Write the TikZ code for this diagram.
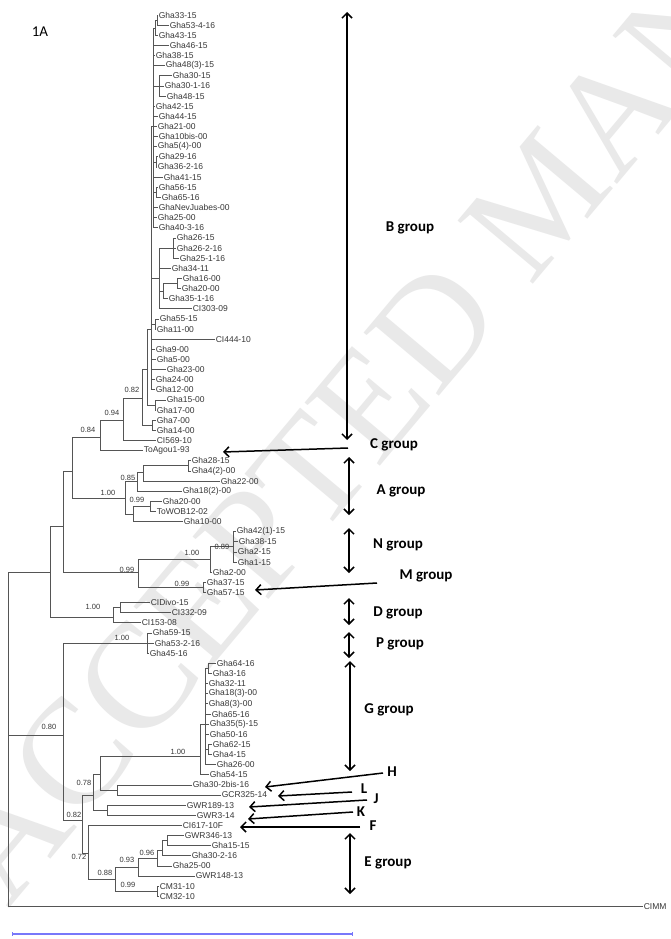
\documentclass[tikz,border=0pt]{standalone}
\usepackage{fontspec}
\setmainfont{Liberation Sans}
\newfontfamily\calib{Carlito}
\newfontfamily\wmfont{Liberation Serif}
\usetikzlibrary{arrows.meta}
\definecolor{treecol}{RGB}{85,85,85}
\definecolor{labcol}{RGB}{55,55,55}
\definecolor{wmcol}{RGB}{233,233,233}
\definecolor{barcol}{RGB}{120,120,250}
\newcommand\myLF[4]{\coordinate (#1) at (#2,{15+(#3-1)*10.13}); \node[leaf] (#1t) at (#1) {#4};}
\newcommand\myIN[3]{\coordinate (#1) at (#2,{15+(#3-1)*10.13});}
\newcommand\myEDS[2]{\foreach \c in {#2} {\draw[br] (#1) |- (\c);}}
\begin{document}
\begin{tikzpicture}[x=1pt,y=-1pt,
  br/.style={draw=treecol,line width=0.7pt},
  leaf/.style={anchor=west,inner sep=0.6pt,font=\fontsize{8.5}{8.5}\selectfont,text=labcol},
  bs/.style={font=\fontsize{7.5}{7.5}\selectfont,text=labcol,inner sep=0pt},
  grp/.style={font=\calib\bfseries\fontsize{15}{15}\selectfont,inner sep=0pt},
  arr/.style={line width=1.5pt,-{Straight Barb[length=5pt,width=10pt]}},
  darr/.style={line width=1.5pt,{Straight Barb[length=5pt,width=10pt]}-{Straight Barb[length=5pt,width=10pt]}}]
\useasboundingbox (0,0) rectangle (670,939);
\fill[white] (0,0) rectangle (670,939);
% watermark
\node[anchor=base west,rotate=50,inner sep=0pt,text=wmcol,font=\wmfont\fontsize{150}{150}\selectfont] (wm) at (8,910) {ACCEPTED MANUSCRIPT};
\node[font=\calib\fontsize{15}{15}\selectfont,inner sep=0pt] (title) at (40,32) {1A};
% leaves
\myLF{L1}{158}{1}{Gha33-15}
\myLF{L2}{169}{2}{Gha53-4-16}
\myLF{L3}{158}{3}{Gha43-15}
\myLF{L4}{169}{4}{Gha46-15}
\myLF{L5}{155}{5}{Gha38-15}
\myLF{L6}{165}{6}{Gha48(3)-15}
\myLF{L7}{172}{7}{Gha30-15}
\myLF{L8}{164}{8}{Gha30-1-16}
\myLF{L9}{166}{9}{Gha48-15}
\myLF{L10}{155}{10}{Gha42-15}
\myLF{L11}{158}{11}{Gha44-15}
\myLF{L12}{157}{12}{Gha21-00}
\myLF{L13}{158}{13}{Gha10bis-00}
\myLF{L14}{157}{14}{Gha5(4)-00}
\myLF{L15}{158}{15}{Gha29-16}
\myLF{L16}{157}{16}{Gha36-2-16}
\myLF{L17}{163}{17}{Gha41-15}
\myLF{L18}{158}{18}{Gha56-15}
\myLF{L19}{161}{19}{Gha65-16}
\myLF{L20}{158}{20}{GhaNevJuabes-00}
\myLF{L21}{157}{21}{Gha25-00}
\myLF{L22}{158}{22}{Gha40-3-16}
\myLF{L23}{176}{23}{Gha26-15}
\myLF{L24}{176}{24}{Gha26-2-16}
\myLF{L25}{179}{25}{Gha25-1-16}
\myLF{L26}{171}{26}{Gha34-11}
\myLF{L27}{182}{27}{Gha16-00}
\myLF{L28}{181}{28}{Gha20-00}
\myLF{L29}{168}{29}{Gha35-1-16}
\myLF{L30}{192}{30}{CI303-09}
\myLF{L31}{159}{31}{Gha55-15}
\myLF{L32}{156}{32}{Gha11-00}
\myLF{L33}{215}{33}{CI444-10}
\myLF{L34}{155}{34}{Gha9-00}
\myLF{L35}{156}{35}{Gha5-00}
\myLF{L36}{166}{36}{Gha23-00}
\myLF{L37}{155}{37}{Gha24-00}
\myLF{L38}{155}{38}{Gha12-00}
\myLF{L39}{166}{39}{Gha15-00}
\myLF{L40}{156}{40}{Gha17-00}
\myLF{L41}{156}{41}{Gha7-00}
\myLF{L42}{156}{42}{Gha14-00}
\myLF{L43}{156}{43}{CI569-10}
\myLF{L44}{143}{44}{ToAgou1-93}
\myLF{L45}{191}{45}{Gha28-15}
\myLF{L46}{191}{46}{Gha4(2)-00}
\myLF{L47}{220}{47}{Gha22-00}
\myLF{L48}{182}{48}{Gha18(2)-00}
\myLF{L49}{162}{49}{Gha20-00}
\myLF{L50}{156}{50}{ToWOB12-02}
\myLF{L51}{183}{51}{Gha10-00}
\myLF{L52}{236}{52}{Gha42(1)-15}
\myLF{L53}{238}{53}{Gha38-15}
\myLF{L54}{237}{54}{Gha2-15}
\myLF{L55}{237}{55}{Gha1-15}
\myLF{L56}{212}{56}{Gha2-00}
\myLF{L57}{206}{57}{Gha37-15}
\myLF{L58}{206}{58}{Gha57-15}
\myLF{L59}{150}{59}{CIDivo-15}
\myLF{L60}{171}{60}{CI332-09}
\myLF{L61}{141}{61}{CI153-08}
\myLF{L62}{152}{62}{Gha59-15}
\myLF{L63}{154}{63}{Gha53-2-16}
\myLF{L64}{149}{64}{Gha45-16}
\myLF{L65}{216}{65}{Gha64-16}
\myLF{L66}{212}{66}{Gha3-16}
\myLF{L67}{208}{67}{Gha32-11}
\myLF{L68}{208}{68}{Gha18(3)-00}
\myLF{L69}{208}{69}{Gha8(3)-00}
\myLF{L70}{211}{70}{Gha65-16}
\myLF{L71}{209}{71}{Gha35(5)-15}
\myLF{L72}{209}{72}{Gha50-16}
\myLF{L73}{212}{73}{Gha62-15}
\myLF{L74}{212}{74}{Gha4-15}
\myLF{L75}{216}{75}{Gha26-00}
\myLF{L76}{209}{76}{Gha54-15}
\myLF{L77}{192}{77}{Gha30-2bis-16}
\myLF{L78}{221}{78}{GCR325-14}
\myLF{L79}{186}{79}{GWR189-13}
\myLF{L80}{196}{80}{GWR3-14}
\myLF{L81}{182}{81}{CI617-10F}
\myLF{L82}{184}{82}{GWR346-13}
\myLF{L83}{211}{83}{Gha15-15}
\myLF{L84}{191}{84}{Gha30-2-16}
\myLF{L85}{172}{85}{Gha25-00}
\myLF{L86}{195}{86}{GWR148-13}
\myLF{L87}{159}{87}{CM31-10}
\myLF{L88}{159}{88}{CM32-10}
\myLF{L89}{643}{89}{CIMM}
% internal nodes and branches
\myIN{t1}{157}{1.5} \myEDS{t1}{L1,L2}
\myIN{t0}{155}{2.3} \myEDS{t0}{t1,L3}
\myIN{t2}{159}{8} \myEDS{t2}{L7,L8,L9}
\myIN{t3}{156}{15.5} \myEDS{t3}{L15,L16}
\myIN{t4}{156}{18.5} \myEDS{t4}{L18,L19}
\myIN{T}{153}{12} \myEDS{T}{t0,L4,L5,L6,t2,L10,L11,L12,L13,L14,t3,L17,t4,L20,L21,L22}
\myIN{N26}{173}{24} \myEDS{N26}{L23,L24,L25}
\myIN{N16a}{177}{27.5} \myEDS{N16a}{L27,L28}
\myIN{N16}{163}{28.3} \myEDS{N16}{N16a,L29}
\myIN{Nc}{159}{27} \myEDS{Nc}{N26,L26,N16,L30}
\myIN{N55}{155}{31.5} \myEDS{N55}{L31,L32}
\myIN{M0}{151}{32} \myEDS{M0}{T,Nc,N55,L33,L34,L35,L36,L37,L38}
\myIN{N15}{155}{39.5} \myEDS{N15}{L39,L40}
\myIN{Nb}{147}{36} \myEDS{Nb}{M0,N15}
\myIN{N7}{152}{41.5} \myEDS{N7}{L41,L42}
\myIN{N082}{142}{38.8} \myEDS{N082}{Nb,N7}
\myIN{N094}{123}{41} \myEDS{N094}{N082,L43}
\myIN{N084}{100}{42.7} \myEDS{N084}{N094,L44}
\myIN{N28}{188}{45.5} \myEDS{N28}{L45,L46}
\myIN{N085}{143}{46.1} \myEDS{N085}{N28,L47}
\myIN{P1}{137}{47} \myEDS{P1}{N085,L48}
\myIN{N20}{150}{49.5} \myEDS{N20}{L49,L50}
\myIN{N99a}{133}{50.3} \myEDS{N99a}{N20,L51}
\myIN{NA}{125}{48.7} \myEDS{NA}{P1,N99a}
\myIN{NBCA}{72}{46} \myEDS{NBCA}{N084,NA}
\myIN{N5}{233}{53.5} \myEDS{N5}{L52,L53,L54,L55}
\myIN{Nn}{210}{54.7} \myEDS{Nn}{N5,L56}
\myIN{Nm}{203}{57.5} \myEDS{Nm}{L57,L58}
\myIN{NM}{138}{56} \myEDS{NM}{Nn,Nm}
\myIN{N63}{63}{51.5} \myEDS{N63}{NBCA,NM}
\myIN{Dsub}{120}{59.5} \myEDS{Dsub}{L59,L60}
\myIN{ND}{113}{60.5} \myEDS{ND}{Dsub,L61}
\myIN{N50}{50}{56} \myEDS{N50}{N63,ND}
\myIN{NP}{147}{63} \myEDS{NP}{L62,L63,L64}
\myIN{Gs1}{208}{65.5} \myEDS{Gs1}{L65,L66}
\myIN{Gs2}{208}{73.5} \myEDS{Gs2}{L73,L74}
\myIN{Gsub}{205}{71} \myEDS{Gsub}{Gs1,L67,L68,L69,L70,L71,L72,Gs2,L75}
\myIN{NG}{200}{74.2} \myEDS{NG}{Gsub,L76}
\myIN{NH}{117}{77.5} \myEDS{NH}{L77,L78}
\myIN{NG2}{100}{76} \myEDS{NG2}{NG,NH}
\myIN{NGW}{107}{79.5} \myEDS{NGW}{L79,L80}
\myIN{N078}{93}{78} \myEDS{N078}{NG2,NGW}
\myIN{N346}{167}{82.5} \myEDS{N346}{L82,L83}
\myIN{N96}{162}{83.5} \myEDS{N96}{N346,L84}
\myIN{N157}{157}{84.3} \myEDS{N157}{N96,L85}
\myIN{N093}{138}{85.1} \myEDS{N093}{N157,L86}
\myIN{NCM}{157}{87.5} \myEDS{NCM}{L87,L88}
\myIN{N088}{115}{86.3} \myEDS{N088}{N093,NCM}
\myIN{N072}{88}{83.8} \myEDS{N072}{L81,N088}
\myIN{N082b}{82}{80.5} \myEDS{N082b}{N078,N072}
\myIN{Nmid}{63}{72.1} \myEDS{Nmid}{NP,N082b}
\myIN{R}{8}{72.1} \myEDS{R}{N50,Nmid,L89}
% bootstrap values
\node[bs] (b1) at (88,430) {0.84};
\node[bs] (b2) at (112,413) {0.94};
\node[bs] (b3) at (132,390) {0.82};
\node[bs] (b4) at (108,493) {1.00};
\node[bs] (b5) at (128,478) {0.85};
\node[bs] (b6) at (137,500) {0.99};
\node[bs] (b7) at (192,553) {1.00};
\node[bs] (b8) at (222,547) {0.89};
\node[bs] (b9) at (127,570) {0.99};
\node[bs] (b10) at (182,584) {0.99};
\node[bs] (b11) at (93,607) {1.00};
\node[bs] (b12) at (122,638) {1.00};
\node[bs] (b13) at (49,727) {0.80};
\node[bs] (b14) at (178,752) {1.00};
\node[bs] (b15) at (84,783) {0.78};
\node[bs] (b16) at (74,815) {0.82};
\node[bs] (b17) at (79,857) {0.72};
\node[bs] (b18) at (147,853) {0.96};
\node[bs] (b19) at (127,860) {0.93};
\node[bs] (b20) at (105,873) {0.88};
\node[bs] (b21) at (128,885) {0.99};
% group labels
\node[grp] (gB) at (410,228) {B group};
\node[grp] (gC) at (394,445) {C group};
\node[grp] (gA) at (401,491) {A group};
\node[grp] (gN) at (398,545) {N group};
\node[grp] (gM) at (426,576) {M group};
\node[grp] (gD) at (398,613) {D group};
\node[grp] (gP) at (400,644) {P group};
\node[grp] (gG) at (389,710) {G group};
\node[grp] (gH) at (392,772) {H};
\node[grp] (gL) at (364,789) {L};
\node[grp] (gJ) at (376,799) {J};
\node[grp] (gK) at (361,812) {K};
\node[grp] (gF) at (373,826) {F};
\node[grp] (gE) at (388,863) {E group};
% arrow end points
\coordinate (aB1) at (347,12); \coordinate (aB2) at (347,440);
\coordinate (aCt) at (348,448); \coordinate (aCh) at (223,452);
\coordinate (aA1) at (349,457); \coordinate (aA2) at (349,515);
\coordinate (aN1) at (349,528); \coordinate (aN2) at (349,573);
\coordinate (aMt) at (377,583); \coordinate (aMh) at (255,590);
\coordinate (aD1) at (349,598); \coordinate (aD2) at (349,625);
\coordinate (aP1) at (349,632); \coordinate (aP2) at (349,658);
\coordinate (aG1) at (350,661); \coordinate (aG2) at (350,771);
\coordinate (aHt) at (383,773); \coordinate (aHh) at (265,787);
\coordinate (aLt) at (352,792); \coordinate (aLh) at (278,796);
\coordinate (aJt) at (367,800); \coordinate (aJh) at (249,807);
\coordinate (aKt) at (353,812); \coordinate (aKh) at (248,819);
\coordinate (aFt) at (360,827); \coordinate (aFh) at (240,827);
\coordinate (aE1) at (350,833); \coordinate (aE2) at (350,894);
\draw[darr] (aB1) -- (aB2);
\draw[arr] (aCt) -- (aCh);
\draw[darr] (aA1) -- (aA2);
\draw[darr] (aN1) -- (aN2);
\draw[arr] (aMt) -- (aMh);
\draw[darr] (aD1) -- (aD2);
\draw[darr] (aP1) -- (aP2);
\draw[darr] (aG1) -- (aG2);
\draw[arr] (aHt) -- (aHh);
\draw[arr] (aLt) -- (aLh);
\draw[arr] (aJt) -- (aJh);
\draw[arr] (aKt) -- (aKh);
\draw[arr] (aFt) -- (aFh);
\draw[darr] (aE1) -- (aE2);
% scale bar
\coordinate (s1) at (12,934); \coordinate (s2) at (352,934);
\draw[barcol,line width=1.2pt] (s1) -- (s2);
\draw[barcol,line width=0.6pt] (s1) ++(0,-2) -- ++(0,4);
\draw[barcol,line width=0.6pt] (s2) ++(0,-2) -- ++(0,4);
\end{tikzpicture}
\end{document}
